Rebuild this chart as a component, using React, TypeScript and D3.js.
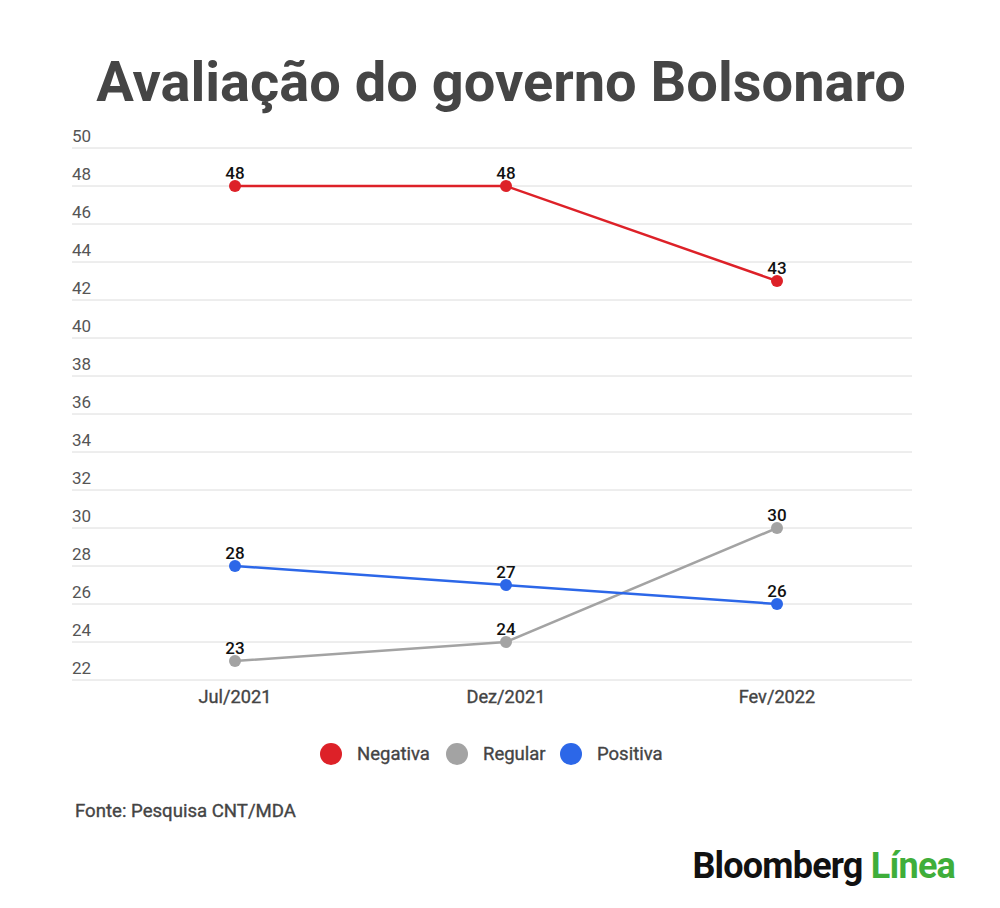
import * as d3 from "d3";

const categories = ["Jul/2021", "Dez/2021", "Fev/2022"];
const negativa = [48, 48, 43];
const regular = [23, 24, 30];
const positiva = [28, 27, 26];
const yTicks = [22, 24, 26, 28, 30, 32, 34, 36, 38, 40, 42, 44, 46, 48, 50];

const SERIES = [
  { name: "Negativa", values: negativa, color: "#dd2128" },
  { name: "Regular", values: regular, color: "#a3a3a3" },
  { name: "Positiva", values: positiva, color: "#2c67e8" },
];

const W = 1000;
const H = 908;
const FONT = "Roboto, 'Noto Sans', sans-serif";

// faux "medium" weight: regular glyphs with a thin outline
const medium = { stroke: "#444", strokeWidth: 0.35 };

export default function App() {
  const x = d3.scaleBand().domain(categories).range([99.5, 912.5]);
  const xc = (c: string) => (x(c) ?? 0) + x.bandwidth() / 2;
  const y = d3.scaleLinear().domain([22, 50]).range([680, 148]);
  const line = d3
    .line<number>()
    .x((_, i) => xc(categories[i]))
    .y((d) => y(d));

  const legendX = [331, 457, 571];

  return (
    <svg
      width={W}
      height={H}
      style={{ position: "absolute", left: 0, top: 0, background: "#fff" }}
      fontFamily={FONT}
    >
      <rect width={W} height={H} fill="#fff" />
      <text x={501} y={101} textAnchor="middle" fontSize={56} fontWeight={700} fill="#454545">
        Avaliação do governo Bolsonaro
      </text>

      {/* grid + y labels */}
      {yTicks.map((t) => (
        <g key={t}>
          <line x1={72} x2={912} y1={y(t)} y2={y(t)} stroke="#dcdcdc" strokeWidth={1} />
          <text x={72} y={y(t) - 6} fontSize={17} fill="#555">
            {t}
          </text>
        </g>
      ))}

      {/* x labels */}
      {categories.map((c) => (
        <text key={c} x={xc(c)} y={703} textAnchor="middle" fontSize={18.2} fill="#444" {...medium}>
          {c}
        </text>
      ))}

      {/* lines */}
      {SERIES.map((s) => (
        <path key={s.name} d={line(s.values) ?? ""} fill="none" stroke={s.color} strokeWidth={2.5} />
      ))}
      {SERIES.map((s) =>
        s.values.map((v, i) => (
          <g key={s.name + i}>
            <circle cx={xc(categories[i])} cy={y(v)} r={6} fill={s.color} />
            <text
              x={xc(categories[i])}
              y={y(v) - 7}
              textAnchor="middle"
              fontSize={17}
              fontWeight={500}
              fill="#111"
            >
              {v}
            </text>
          </g>
        ))
      )}

      {/* legend */}
      {SERIES.map((s, i) => (
        <g key={s.name}>
          <circle cx={legendX[i]} cy={754} r={11} fill={s.color} />
          <text x={legendX[i] + 26} y={760} fontSize={18.5} fill="#444" {...medium}>
            {s.name}
          </text>
        </g>
      ))}

      <text x={75} y={817} fontSize={18.6} fill="#444" {...medium}>
        Fonte: Pesquisa CNT/MDA
      </text>

      <text x={955} y={878} textAnchor="end" fontSize={36} fontWeight={700} letterSpacing={-0.8}>
        <tspan fill="#111">Bloomberg </tspan>
        <tspan fill="#3fae3a">Línea</tspan>
      </text>
    </svg>
  );
}
